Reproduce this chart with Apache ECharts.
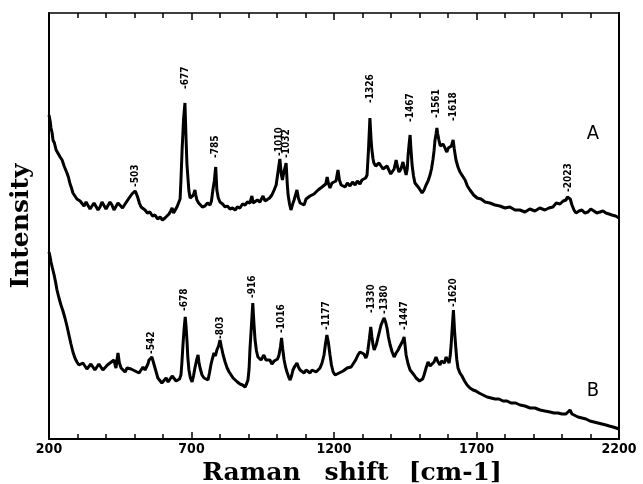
<!DOCTYPE html>
<html>
<head>
<meta charset="utf-8">
<script src="https://cdn.jsdelivr.net/npm/echarts@6/dist/echarts.min.js"></script>
<style>
  html, body { margin: 0; padding: 0; background: #fff; }
  #chart { width: 643px; height: 484px; }
</style>
</head>
<body>
<div id="chart"></div>
<script>
// spectrum A (upper trace): [raman shift, intensity a.u.]
var spectrumA = [
  [200,324],[204,318],[207,311],[211,306],[214,299],[219,296],[225,289],[231,287],[239,282],[246,279],
  [253,273],[258,271],[263,266],[268,262],[274,255],[279,251],[284,246],[291,244],[298,240],[303,241],
  [309,238],[316,236],[323,233],[330,237],[337,235],[344,230],[351,231],[358,236],[365,234],[372,229],
  [379,232],[386,237],[393,236],[400,230],[407,232],[414,237],[421,234],[428,229],[435,231],[442,236],
  [449,234],[458,231],[467,235],[474,238],[481,241],[486,243],[491,245],[497,247],[502,248],[507,245],
  [512,241],[517,236],[523,232],[530,230],[537,229],[545,226],[554,227],[563,223],[572,224],[581,220],
  [590,222],[598,219],[607,221],[614,223],[621,225],[627,228],[632,231],[637,226],[642,227],[649,232],
  [656,234],[660,240],[663,259],[667,289],[672,319],[677,336],[681,299],[684,275],[688,259],[691,248],
  [695,241],[702,239],[707,244],[712,249],[715,244],[719,239],[725,236],[730,235],[738,232],[747,233],
  [756,236],[765,234],[770,238],[775,249],[780,258],[785,272],[789,249],[794,241],[800,237],[809,235],
  [818,232],[826,233],[835,230],[844,231],[853,229],[861,232],[870,231],[879,235],[888,234],[896,237],
  [905,236],[909,238],[912,243],[916,236],[923,234],[931,239],[940,237],[946,239],[951,243],[958,238],
  [965,236],[974,241],[982,244],[990,249],[997,254],[1001,262],[1005,270],[1010,280],[1015,265],[1019,259],
  [1025,268],[1032,276],[1036,255],[1039,244],[1044,235],[1049,229],[1055,235],[1060,239],[1065,244],[1070,249],
  [1075,241],[1081,236],[1088,237],[1095,234],[1102,240],[1109,239],[1116,243],[1123,241],[1130,245],[1137,244],
  [1144,249],[1151,247],[1158,252],[1165,251],[1171,255],[1176,262],[1181,255],[1186,251],[1193,256],[1200,254],
  [1207,258],[1214,269],[1219,259],[1225,254],[1232,256],[1239,252],[1247,256],[1256,253],[1265,257],[1274,254],
  [1282,258],[1291,255],[1298,259],[1305,258],[1311,261],[1316,264],[1321,289],[1326,321],[1330,300],[1333,289],
  [1337,280],[1340,276],[1346,273],[1351,271],[1358,276],[1365,274],[1372,270],[1379,269],[1386,273],[1393,271],
  [1399,265],[1404,267],[1411,270],[1418,279],[1423,272],[1428,267],[1435,270],[1442,277],[1448,270],[1453,264],
  [1457,270],[1460,284],[1464,296],[1467,304],[1470,290],[1474,274],[1479,263],[1484,256],[1491,254],[1498,251],
  [1504,249],[1509,246],[1516,249],[1523,254],[1530,258],[1537,264],[1542,270],[1547,279],[1551,288],[1554,298],
  [1558,305],[1561,311],[1564,305],[1568,299],[1573,293],[1579,291],[1583,295],[1586,293],[1591,290],[1596,287],
  [1601,291],[1607,289],[1612,293],[1618,299],[1622,290],[1628,279],[1635,272],[1642,267],[1651,263],[1660,259],
  [1668,253],[1677,249],[1690,244],[1702,241],[1716,240],[1730,237],[1747,236],[1765,234],[1782,233],[1800,231],
  [1817,232],[1835,229],[1852,229],[1870,227],[1887,230],[1905,228],[1922,231],[1940,229],[1954,231],[1968,232],
  [1980,236],[1993,235],[2004,238],[2014,239],[2019,242],[2023,244],[2029,240],[2035,234],[2042,229],[2049,226],
  [2060,228],[2070,229],[2080,226],[2091,227],[2101,230],[2112,228],[2122,226],[2133,227],[2144,228],[2154,226],
  [2165,225],[2175,224],[2188,223],[2200,221]
];

// spectrum B (lower trace)
var spectrumB = [
  [200,187],[204,182],[207,177],[212,171],[218,164],[223,157],[228,149],[235,141],[242,134],[249,128],
  [256,121],[263,113],[270,104],[277,95],[284,87],[291,81],[298,77],[305,74],[312,72],[319,76],
  [326,75],[333,70],[340,71],[347,75],[354,74],[361,69],[368,70],[375,75],[382,73],[389,69],
  [396,71],[405,74],[414,76],[421,77],[428,79],[432,74],[435,71],[439,80],[442,86],[447,76],
  [453,71],[460,69],[467,67],[474,71],[481,73],[488,70],[495,72],[502,68],[509,69],[516,66],
  [523,67],[530,72],[537,69],[542,72],[547,75],[551,79],[554,77],[558,80],[561,82],[566,77],
  [572,71],[577,66],[582,61],[589,59],[596,56],[603,58],[611,61],[618,57],[625,59],[632,63],
  [639,61],[646,58],[653,57],[658,60],[663,64],[666,75],[670,94],[674,110],[678,122],[681,112],
  [684,99],[687,82],[691,69],[696,61],[702,57],[707,63],[712,71],[718,79],[723,84],[726,77],
  [730,71],[737,64],[744,61],[751,63],[758,59],[763,66],[768,74],[773,80],[779,86],[784,83],
  [789,89],[795,93],[800,99],[805,92],[811,84],[818,77],[825,71],[832,67],[839,64],[846,61],
  [853,59],[861,57],[870,55],[879,54],[888,52],[893,55],[898,59],[902,70],[905,89],[910,112],
  [915,136],[919,116],[923,99],[928,88],[933,82],[938,80],[944,79],[949,81],[954,84],[961,79],
  [968,77],[975,79],[982,75],[990,78],[997,77],[1002,80],[1007,84],[1012,92],[1016,101],[1020,90],
  [1025,79],[1030,72],[1035,67],[1041,62],[1046,59],[1051,63],[1056,69],[1063,73],[1070,76],[1075,72],
  [1081,69],[1088,68],[1095,66],[1102,69],[1109,67],[1116,66],[1123,69],[1130,70],[1137,67],[1144,68],
  [1151,71],[1158,76],[1165,84],[1170,95],[1175,104],[1180,97],[1186,84],[1191,74],[1197,67],[1204,64],
  [1211,62],[1218,66],[1225,65],[1232,68],[1239,67],[1246,71],[1253,69],[1260,72],[1267,74],[1276,79],
  [1284,84],[1291,87],[1298,89],[1305,85],[1312,81],[1316,84],[1319,89],[1324,100],[1329,112],[1333,102],
  [1337,94],[1341,89],[1344,87],[1349,95],[1354,101],[1360,108],[1365,114],[1371,118],[1376,121],[1381,117],
  [1386,111],[1391,102],[1397,94],[1404,87],[1411,82],[1418,86],[1425,89],[1430,92],[1435,94],[1441,98],
  [1446,102],[1450,92],[1453,84],[1460,75],[1467,69],[1474,67],[1481,64],[1488,61],[1495,59],[1500,58],
  [1505,56],[1511,60],[1516,64],[1523,71],[1530,77],[1537,73],[1544,71],[1551,77],[1558,82],[1565,77],
  [1572,74],[1577,78],[1582,79],[1588,76],[1593,82],[1599,79],[1604,76],[1608,84],[1611,94],[1615,112],
  [1619,129],[1623,108],[1628,89],[1631,79],[1635,71],[1642,66],[1649,63],[1658,58],[1667,54],[1677,51],
  [1688,49],[1698,48],[1709,46],[1723,44],[1737,42],[1751,41],[1765,40],[1779,40],[1793,38],[1807,38],
  [1821,36],[1837,36],[1853,34],[1870,33],[1888,31],[1905,31],[1923,29],[1940,28],[1958,27],[1972,26],
  [1986,26],[2000,25],[2014,25],[2021,27],[2028,29],[2035,25],[2042,23],[2056,22],[2070,21],[2084,20],
  [2098,18],[2112,17],[2126,16],[2140,15],[2154,14],[2166,13],[2179,12],[2190,11],[2200,10]
];

// peak annotations: [shift, label base height, text]
var peaksA = [
  [502,252,'503'],[677,350,'677'],[785,281,'785'],[1010,283,'1010'],[1032,281,'1032'],
  [1326,336,'1326'],[1467,317,'1467'],[1561,321,'1561'],[1618,318,'1618'],[2023,247,'2023']
];
var peaksB = [
  [561,85,'542'],[676,128,'678'],[800,100,'803'],[915,141,'916'],[1016,106,'1016'],
  [1175,109,'1177'],[1330,126,'1330'],[1376,125,'1380'],[1446,109,'1447'],[1618,132,'1620']
];

var xMin = 200, xMax = 2200, xStep = 500;
var yMin = 0, yMax = 426;

var peakFont = '"DejaVu Sans Condensed", "Liberation Sans Narrow", "DejaVu Sans", sans-serif';
var tickFont = '"Liberation Sans Narrow", "DejaVu Sans Condensed", sans-serif';
var titleFont = '"DejaVu Serif", serif';

function peakMarks(peaks) {
  return {
    silent: true,
    symbol: 'circle',
    symbolSize: 0,
    animation: false,
    label: {
      show: true,
      position: [0, 0],
      rotate: 90,
      align: 'left',
      verticalAlign: 'middle',
      color: '#000',
      fontFamily: peakFont,
      fontWeight: 'bold',
      fontSize: 10,
      formatter: function (p) { return '-' + p.name; }
    },
    data: peaks.map(function (p) {
      return { name: p[2], coord: [p[0], p[1]] };
    })
  };
}

var chart = echarts.init(document.getElementById('chart'));

var xAxisBase = {
  type: 'value',
  min: xMin,
  max: xMax,
  interval: xStep,
  axisLine: { show: true, onZero: false, lineStyle: { color: '#000', width: 2 } },
  axisTick: { show: true, inside: true, length: 7, lineStyle: { color: '#000', width: 1.5 } },
  minorTick: { show: true, splitNumber: 5, length: 5, lineStyle: { color: '#000', width: 1.5 } },
  splitLine: { show: false },
  minorSplitLine: { show: false }
};

var titleStyle = {
  color: '#000',
  fontFamily: titleFont,
  fontWeight: 'bold',
  fontSize: 25
};

var option = {
  animation: false,
  backgroundColor: '#fff',
  grid: { left: 49, right: 24, top: 13, bottom: 45, outerBoundsMode: 'none', containLabel: false },
  xAxis: [
    Object.assign({}, xAxisBase, {
      position: 'bottom',
      axisLabel: {
        show: true,
        color: '#000',
        fontFamily: tickFont,
        fontWeight: 'bold',
        fontSize: 14,
        margin: 3,
        formatter: function (v) { return String(v); }
      },
      name: '{w|Raman}{g1| }{w|shift}{g2| }{w|[cm-1]}',
      nameLocation: 'middle',
      nameGap: 16,
      nameTextStyle: Object.assign({}, titleStyle, {
        padding: [0, 0, 0, 36],
        rich: {
          w: titleStyle,
          g1: Object.assign({}, titleStyle, { width: 24 }),
          g2: Object.assign({}, titleStyle, { width: 20 })
        }
      })
    }),
    Object.assign({}, xAxisBase, {
      position: 'top',
      axisLabel: { show: false },
      axisLine: { show: true, onZero: false, lineStyle: { color: '#000', width: 1.5 } }
    })
  ],
  yAxis: [
    {
      type: 'value',
      min: yMin,
      max: yMax,
      position: 'left',
      axisLine: { show: true, onZero: false, lineStyle: { color: '#000', width: 2 } },
      axisTick: { show: false },
      axisLabel: { show: false },
      splitLine: { show: false },
      name: 'Intensity',
      nameLocation: 'middle',
      nameRotate: 90,
      nameGap: 15,
      nameTextStyle: titleStyle
    },
    {
      type: 'value',
      min: yMin,
      max: yMax,
      position: 'right',
      axisLine: { show: true, onZero: false, lineStyle: { color: '#000', width: 2 } },
      axisTick: { show: false },
      axisLabel: { show: false },
      splitLine: { show: false }
    }
  ],
  series: [
    {
      name: 'A',
      type: 'line',
      xAxisIndex: 1,
      data: spectrumA,
      showSymbol: false,
      symbol: 'none',
      lineStyle: { color: '#000', width: 3 },
      markPoint: peakMarks(peaksA)
    },
    {
      name: 'B',
      type: 'line',
      xAxisIndex: 0,
      data: spectrumB,
      showSymbol: false,
      symbol: 'none',
      lineStyle: { color: '#000', width: 3 },
      markPoint: peakMarks(peaksB)
    }
  ],
  graphic: [
    {
      type: 'text', x: 593, y: 134,
      style: { text: 'A', fill: '#000', font: '20px ' + peakFont, align: 'center', verticalAlign: 'middle' }
    },
    {
      type: 'text', x: 593, y: 391,
      style: { text: 'B', fill: '#000', font: '20px ' + peakFont, align: 'center', verticalAlign: 'middle' }
    }
  ]
};

chart.setOption(option);
</script>
</body>
</html>
